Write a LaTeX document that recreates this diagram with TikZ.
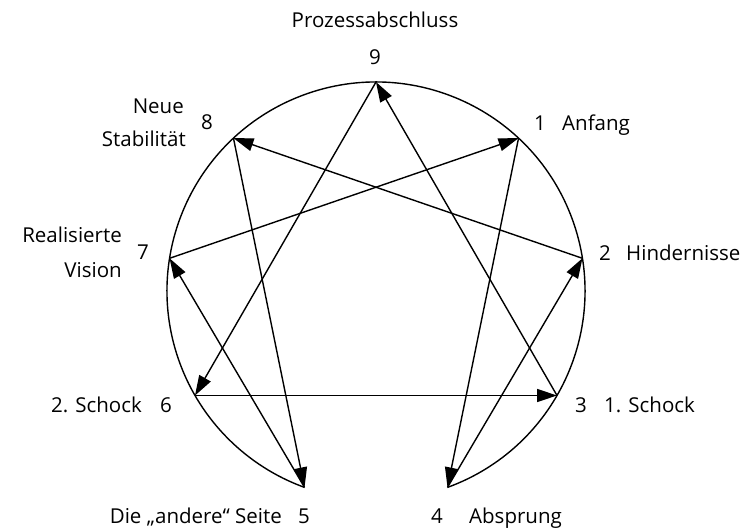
\documentclass[tikz,border=0pt]{standalone}
\usepackage{fontspec}
\setmainfont{Open Sans}
\usetikzlibrary{arrows.meta}
\begin{document}
\begin{tikzpicture}[x=1pt,y=1pt,
  lbl/.style={inner sep=0pt,font=\fontsize{20.5pt}{24pt}\selectfont},
  conn/.style={line width=1.4pt,-{Triangle[length=20pt,width=13pt]}},
  rim/.style={line width=1.4pt}]
\useasboundingbox (0,0) rectangle (747,531);
\coordinate (c) at (376,240);
\foreach \n/\a in {9/90,1/47,2/9,3/-30,4/-70,5/250,6/210,7/171,8/133}
  \coordinate (p\n) at ([shift={(\a:209pt)}]c);
% outer arc (open between 4 and 5)
\draw[rim] (p4) arc[start angle=-70,end angle=250,radius=209pt];
% triangle 9-6-3
\draw[conn] (p9) -- (p6);
\draw[conn] (p6) -- (p3);
\draw[conn] (p3) -- (p9);
% hexad 1-4-2-8-5-7
\draw[conn] (p1) -- (p4);
\draw[conn] (p4) -- (p2);
\draw[conn] (p2) -- (p8);
\draw[conn] (p8) -- (p5);
\draw[conn] (p5) -- (p7);
\draw[conn] (p7) -- (p1);
% labels
\node[lbl,anchor=base] (t9) at (375,503) {Prozessabschluss};
\node[lbl,anchor=base] (n9) at (375,466) {9};
\node[lbl,anchor=base] (n8) at (207,401) {8};
\node[lbl,anchor=base east] (t8a) at (184,417) {Neue};
\node[lbl,anchor=base east] (t8b) at (186,384) {Stabilität};
\node[lbl,anchor=base] (n7) at (143,272) {7};
\node[lbl,anchor=base east] (t7a) at (122,288) {Realisierte};
\node[lbl,anchor=base east] (t7b) at (122,254) {Vision};
\node[lbl,anchor=base] (n1) at (540,400) {1};
\node[lbl,anchor=base west] (t1) at (562,400) {Anfang};
\node[lbl,anchor=base] (n2) at (605,270) {2};
\node[lbl,anchor=base west] (t2) at (626,270) {Hindernisse};
\node[lbl,anchor=base] (n3) at (581,119) {3};
\node[lbl,anchor=base west] (t3) at (604,119) {1. Schock};
\node[lbl,anchor=base] (n6) at (166,119) {6};
\node[lbl,anchor=base east] (t6) at (142,119) {2. Schock};
\node[lbl,anchor=base] (n5) at (304,8) {5};
\node[lbl,anchor=base east] (t5) at (282,8) {Die „andere“ Seite};
\node[lbl,anchor=base] (n4) at (437,8) {4};
\node[lbl,anchor=base west] (t4) at (469,8) {Absprung};
\end{tikzpicture}
\end{document}
